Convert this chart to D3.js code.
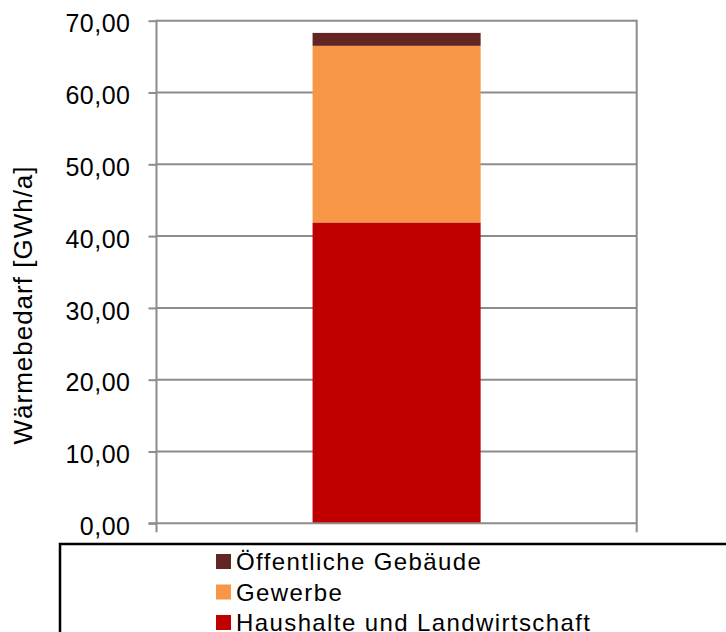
<!DOCTYPE html>
<html>
<head>
<meta charset="utf-8">
<script src="https://cdn.jsdelivr.net/npm/d3@7"></script>
<style>
  body { margin: 0; background: #fff; }
  text { font-family: "Liberation Sans", Arial, sans-serif; fill: #000; }
</style>
</head>
<body>
<svg id="chart"></svg>
<script>
// data
const categories = ["2010"];
const seriesNames = ["Haushalte und Landwirtschaft", "Gewerbe", "Öffentliche Gebäude"];
const seriesColors = ["#c00000", "#f79646", "#632523"];
const haushalte = [41.9];
const gewerbe = [24.6];
const oeffentlich = [1.8];
const yTicks = [0, 10, 20, 30, 40, 50, 60, 70];

const width = 726, height = 632;
const margin = { top: 20.7, right: 89.3, bottom: 108.7, left: 156.5 };
const innerW = width - margin.left - margin.right;
const innerH = height - margin.top - margin.bottom;
const gridColor = "#8c8c8c";

const svg = d3.select("#chart").attr("width", width).attr("height", height);
const chart = svg.append("g").attr("transform", `translate(${margin.left},${margin.top})`);

const rows = categories.map((c, i) => ({
    cat: c,
    "Haushalte und Landwirtschaft": haushalte[i],
    "Gewerbe": gewerbe[i],
    "Öffentliche Gebäude": oeffentlich[i]
}));
const stacked = d3.stack().keys(seriesNames)(rows);

const xScale = d3.scaleBand().domain(categories).range([0, innerW])
    .paddingInner(0.65).paddingOuter(0.325);
const yScale = d3.scaleLinear().domain([0, 70]).range([innerH, 0]);
const color = d3.scaleOrdinal().domain(seriesNames).range(seriesColors);

// gridlines
chart.append("g").selectAll("line")
    .data(yTicks.filter(d => d > 0))
    .join("line")
    .attr("x1", 0).attr("x2", innerW)
    .attr("y1", d => yScale(d)).attr("y2", d => yScale(d))
    .attr("stroke", gridColor).attr("stroke-width", 2);

// right border of plot
chart.append("line")
    .attr("x1", innerW).attr("x2", innerW)
    .attr("y1", yScale(70) - 1).attr("y2", innerH + 9)
    .attr("stroke", gridColor).attr("stroke-width", 2);

// bars
chart.append("g").selectAll("g")
    .data(stacked)
    .join("g")
    .attr("fill", d => color(d.key))
    .selectAll("rect")
    .data(d => d)
    .join("rect")
    .attr("x", d => xScale(d.data.cat))
    .attr("width", xScale.bandwidth())
    .attr("y", d => yScale(d[1]))
    .attr("height", d => yScale(d[0]) - yScale(d[1]));

// y axis
const yAxis = d3.axisLeft(yScale).tickValues(yTicks).tickSize(8).tickPadding(18)
    .tickFormat(d => d3.format(".2f")(d).replace(".", ","));
const yAxisG = chart.append("g").call(yAxis);
yAxisG.select(".domain").attr("stroke", gridColor).attr("stroke-width", 2)
    .attr("d", `M0,${innerH + 9}V${yScale(70) - 1}`);
yAxisG.selectAll(".tick line").attr("stroke", gridColor).attr("stroke-width", 2);
yAxisG.selectAll(".tick text")
    .attr("dy", "0.45em")
    .style("font-size", "25px")
    .style("letter-spacing", "0.5px")
    .style("font-family", "Liberation Sans, Arial, sans-serif");

// x axis baseline
chart.append("line")
    .attr("x1", -8).attr("x2", innerW)
    .attr("y1", innerH).attr("y2", innerH)
    .attr("stroke", gridColor).attr("stroke-width", 2);

// y title
svg.append("text")
    .attr("transform", `translate(32,305) rotate(-90)`)
    .attr("text-anchor", "middle")
    .style("font-size", "26px")
    .style("letter-spacing", "1px")
    .text("Wärmebedarf [GWh/a]");

// legend
const legend = svg.append("g").attr("class", "legend-g");
legend.append("rect")
    .attr("x", 60).attr("y", 544)
    .attr("width", 720).attr("height", 120)
    .attr("fill", "none").attr("stroke", "#000").attr("stroke-width", 2.5);

const legendItems = seriesNames.slice().reverse();
const item = legend.selectAll(".legend-item")
    .data(legendItems)
    .join("g")
    .attr("class", "legend-item")
    .attr("transform", (d, i) => `translate(216,${554 + i * 30.5})`);
item.append("rect")
    .attr("width", 15).attr("height", 15)
    .attr("fill", d => color(d));
item.append("text")
    .attr("x", 20).attr("y", 16)
    .style("font-size", "24px")
    .style("letter-spacing", "1.4px")
    .text(d => d);
</script>
</body>
</html>
